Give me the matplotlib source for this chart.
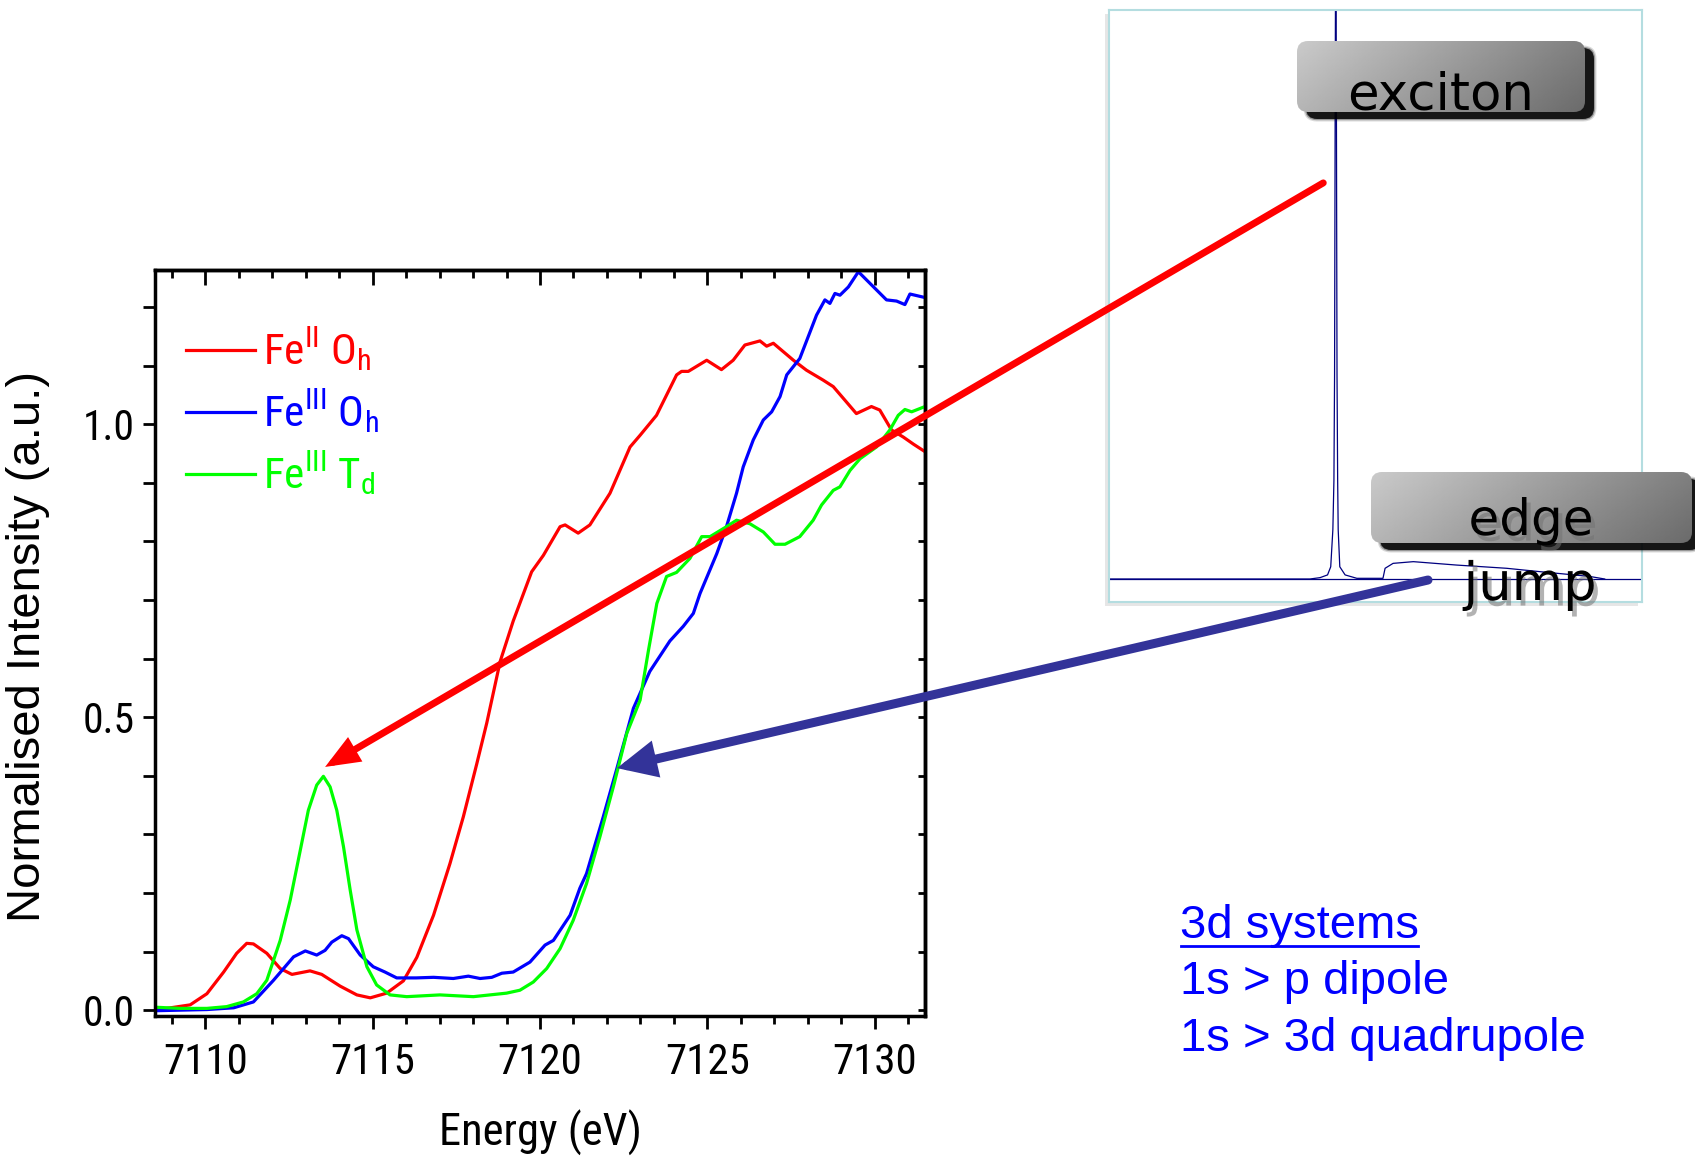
import numpy as np
import matplotlib
matplotlib.use("Agg")
import matplotlib.pyplot as plt
import matplotlib.patheffects as pe
from matplotlib.patches import FancyBboxPatch, ConnectionPatch, Rectangle
from matplotlib.ticker import MultipleLocator, FormatStrFormatter

NARROW = ["Liberation Sans Narrow", "Roboto Condensed", "Liberation Sans"]
plt.rcParams["font.family"] = NARROW + ["DejaVu Sans"]
plt.rcParams["mathtext.fontset"] = "custom"
plt.rcParams["mathtext.rm"] = "Roboto Condensed"
plt.rcParams["mathtext.it"] = "Roboto Condensed:italic"
plt.rcParams["mathtext.bf"] = "Roboto Condensed:bold"

# Fe K pre-edge / edge spectra (energy in eV, normalised intensity)
e_fe2_oh = [7108.5, 7109.55, 7110.05, 7110.55, 7110.94, 7111.24, 7111.44, 7111.84, 7112.24,
            7112.59, 7113.13, 7113.48, 7114.03, 7114.53, 7114.93, 7115.42, 7115.92, 7116.32,
            7116.82, 7117.31, 7117.71, 7118.11, 7118.41, 7118.81, 7119.20, 7119.75, 7120.10,
            7120.60, 7120.75, 7121.14, 7121.49, 7122.09, 7122.69, 7122.99, 7123.48, 7124.08,
            7124.23, 7124.43, 7124.98, 7125.42, 7125.77, 7126.12, 7126.57, 7126.77, 7126.97,
            7127.57, 7127.96, 7128.46, 7128.76, 7129.45, 7129.90, 7130.15, 7130.50, 7130.85,
            7131.15, 7131.5]
i_fe2_oh = [0.0, 0.009, 0.028, 0.065, 0.097, 0.114, 0.113, 0.097, 0.071,
            0.061, 0.067, 0.061, 0.041, 0.026, 0.021, 0.029, 0.050, 0.090,
            0.162, 0.25, 0.33, 0.42, 0.49, 0.595, 0.664, 0.748, 0.776,
            0.825, 0.828, 0.814, 0.828, 0.882, 0.961, 0.981, 1.015, 1.084,
            1.090, 1.090, 1.109, 1.093, 1.109, 1.135, 1.142, 1.133, 1.138,
            1.109, 1.092, 1.075, 1.064, 1.018, 1.030, 1.024, 0.990, 0.978,
            0.966, 0.953]

e_fe3_oh = [7108.5, 7110.05, 7110.85, 7111.44, 7112.04, 7112.64, 7112.99, 7113.33, 7113.58,
            7113.78, 7114.08, 7114.28, 7114.63, 7115.02, 7115.37, 7115.72, 7116.3, 7116.82,
            7117.41, 7117.86, 7118.21, 7118.56, 7118.86, 7119.20, 7119.70, 7120.15, 7120.40,
            7120.90, 7121.19, 7121.39, 7121.89, 7122.29, 7122.79, 7123.28, 7123.88, 7124.28,
            7124.58, 7124.78, 7125.03, 7125.28, 7125.57, 7125.87, 7126.07, 7126.37, 7126.67,
            7126.92, 7127.17, 7127.37, 7127.76, 7128.01, 7128.26, 7128.51, 7128.66, 7128.81,
            7128.96, 7129.21, 7129.51, 7129.86, 7130.35, 7130.65, 7130.90, 7131.05, 7131.5]
i_fe3_oh = [-0.001, 0.001, 0.004, 0.014, 0.051, 0.091, 0.101, 0.094, 0.102,
            0.116, 0.127, 0.122, 0.094, 0.074, 0.065, 0.055, 0.055, 0.056,
            0.054, 0.058, 0.054, 0.056, 0.063, 0.065, 0.082, 0.111, 0.119,
            0.162, 0.208, 0.233, 0.330, 0.411, 0.515, 0.578, 0.630, 0.655,
            0.677, 0.711, 0.745, 0.779, 0.825, 0.882, 0.927, 0.973, 1.007,
            1.021, 1.047, 1.084, 1.112, 1.149, 1.186, 1.212, 1.206, 1.223,
            1.220, 1.234, 1.260, 1.240, 1.212, 1.210, 1.204, 1.222, 1.216]

e_fe3_td = [7108.5, 7109.25, 7110.05, 7110.64, 7111.14, 7111.54, 7111.84, 7112.24, 7112.54,
            7112.84, 7113.08, 7113.33, 7113.53, 7113.73, 7113.93, 7114.13, 7114.33, 7114.53,
            7114.83, 7115.12, 7115.52, 7116.02, 7117.01, 7118.01, 7119.00, 7119.40, 7119.80,
            7120.20, 7120.60, 7120.99, 7121.39, 7121.79, 7122.19, 7122.59, 7122.99, 7123.24,
            7123.49, 7123.78, 7124.08, 7124.48, 7124.83, 7125.08, 7125.57, 7125.87, 7126.27,
            7126.67, 7127.02, 7127.32, 7127.76, 7128.16, 7128.41, 7128.76, 7128.96, 7129.26,
            7129.56, 7130.05, 7130.45, 7130.70, 7130.90, 7131.10, 7131.5]
i_fe3_td = [0.005, 0.003, 0.003, 0.006, 0.014, 0.028, 0.051, 0.119, 0.188,
            0.273, 0.341, 0.384, 0.399, 0.381, 0.341, 0.279, 0.205, 0.137,
            0.074, 0.043, 0.026, 0.023, 0.026, 0.023, 0.029, 0.034, 0.048,
            0.071, 0.105, 0.153, 0.216, 0.296, 0.381, 0.472, 0.529, 0.614,
            0.694, 0.740, 0.747, 0.771, 0.808, 0.808, 0.825, 0.836, 0.830,
            0.816, 0.795, 0.795, 0.808, 0.836, 0.862, 0.887, 0.893, 0.921,
            0.941, 0.961, 0.990, 1.015, 1.025, 1.021, 1.030]

series = [
    (e_fe2_oh, i_fe2_oh, "#ff0000", r"Fe$^{\mathrm{II}}$ O$_{\mathrm{h}}$"),
    (e_fe3_oh, i_fe3_oh, "#0000ff", r"Fe$^{\mathrm{III}}$ O$_{\mathrm{h}}$"),
    (e_fe3_td, i_fe3_td, "#00ff00", r"Fe$^{\mathrm{III}}$ T$_{\mathrm{d}}$"),
]

# schematic absorption spectrum: sharp exciton line followed by the edge jump
inset_x = [0, 37.7, 39.6, 41.0, 41.6, 42.0, 42.2, 42.32, 42.45, 42.55, 42.65, 42.78, 42.9,
           43.0, 43.3, 44.3, 46.5, 51.4, 51.8, 53.3, 57.1, 65.2, 74.6, 80.9, 90.2, 93.0]
inset_y = [0, 0, 0.08, 0.24, 0.72, 2.9, 5.8, 12.0, 30.0, 40.0, 30.0, 12.0, 5.8,
           2.9, 0.72, 0.24, 0.04, 0.04, 0.63, 0.92, 1.02, 0.82, 0.63, 0.43, 0.15, 0.0]
inset_base = 0.0

# arrows: inset feature -> spectrum feature
exciton_from, exciton_to = (40.2, 23.3), (7113.58, 0.415)
edge_from, edge_to = (59.85, -0.06), (7122.30, 0.413)

notes = ["3d systems", "1s > p dipole", "1s > 3d quadrupole"]

W, H = 1695, 1159
fig = plt.figure(figsize=(W / 100, H / 100), dpi=100)


def px_rect(x0, y0, x1, y1):
    return [x0 / W, 1 - y1 / H, (x1 - x0) / W, (y1 - y0) / H]


# ---- main spectrum panel ----
ax = fig.add_axes(px_rect(155, 270, 925, 1016))
for e, i, c, lab in series:
    ax.plot(e, i, color=c, lw=2.3, label=lab)
ax.set_xlim(7108.5, 7131.5)
ax.set_ylim(-0.010, 1.263)

ax.xaxis.set_major_locator(MultipleLocator(5))
ax.xaxis.set_minor_locator(MultipleLocator(1))
ax.yaxis.set_major_locator(MultipleLocator(0.5))
ax.yaxis.set_minor_locator(MultipleLocator(0.1))
ax.yaxis.set_major_formatter(FormatStrFormatter("%.1f"))
ax.tick_params(axis="x", which="major", direction="out", length=9.5, width=2, labelsize=31, pad=9)
ax.tick_params(axis="x", which="minor", direction="out", length=6, width=2)
ax.tick_params(axis="y", which="both", direction="out", length=8.5, width=2, labelsize=30, pad=6)
for s in ax.spines.values():
    s.set_linewidth(2.5)

top = ax.secondary_xaxis("top")
top.xaxis.set_major_locator(MultipleLocator(5))
top.xaxis.set_minor_locator(MultipleLocator(1))
top.tick_params(axis="x", which="major", direction="in", length=11, width=2, labeltop=False)
top.tick_params(axis="x", which="minor", direction="in", length=6, width=2, labeltop=False)
top.spines["top"].set_linewidth(2.5)

right = ax.secondary_yaxis("right")
right.yaxis.set_major_locator(MultipleLocator(0.5))
right.yaxis.set_minor_locator(MultipleLocator(0.1))
right.tick_params(axis="y", which="both", direction="in", length=5, width=2, labelright=False)
right.spines["right"].set_linewidth(2.5)

ax.set_xlabel("Energy (eV)", size=32, labelpad=20)
ax.set_ylabel("Normalised Intensity (a.u.)", family="Liberation Sans", size=34)
ax.yaxis.set_label_coords(-0.137, 0.495)

ax.legend(loc="upper left", bbox_to_anchor=(0.04, 0.925), frameon=False, fontsize=31,
          handlelength=1.6, handletextpad=0.2, labelspacing=0.33,
          borderaxespad=0, borderpad=0, labelcolor="linecolor")

# ---- schematic inset ----
fig.add_artist(Rectangle((1105 / W, 1 - 606 / H), 533 / W, 592 / H,
                         transform=fig.transFigure, fc="#e6e6e6", ec="none", zorder=-1))
axin = fig.add_axes(px_rect(1109, 10, 1642, 602))
axin.axhline(inset_base, color="#000080", lw=0.9)
axin.plot(inset_x, inset_y, color="#000080", lw=0.9)
axin.set_xlim(0, 100)
axin.set_ylim(-1.353, 33.47)
axin.set_xticks([])
axin.set_yticks([])
for s in axin.spines.values():
    s.set_color("#b4dde0")
    s.set_linewidth(1.5)

for (a, b, col, lw, hl, hw) in [(exciton_from, exciton_to, "#ff0000", 5, 1.6, 0.65),
                                (edge_from, edge_to, "#333399", 6.5, 1.8, 0.85)]:
    con = ConnectionPatch(xyA=a, coordsA=axin.transData, xyB=b, coordsB=ax.transData,
                          arrowstyle=f"-|>,head_length={hl},head_width={hw}",
                          mutation_scale=10, lw=lw, color=col, shrinkA=0, shrinkB=0,
                          joinstyle="miter", zorder=2)
    fig.add_artist(con)

# ---- overlay for labels ----
ov = fig.add_axes([0, 0, 1, 1], zorder=5)
ov.axis("off")


def shaded_box(x0, y0, x1, y1, r=11):
    for pad, a in [(2.5, 0.15), (1.2, 0.3), (0, 0.85)]:
        ov.add_patch(FancyBboxPatch((x0 + 9 - pad, y0 + 7 - pad), x1 - x0 + 2 * pad, y1 - y0 + 2 * pad,
                                    boxstyle=f"round,pad=0,rounding_size={r + pad}",
                                    fc="black", ec="none", alpha=a, zorder=1))
    box = FancyBboxPatch((x0, y0), x1 - x0, y1 - y0, boxstyle=f"round,pad=0,rounding_size={r}",
                         fc="none", ec="none", zorder=2)
    ov.add_patch(box)
    U, V = np.meshgrid(np.linspace(0, 1, 256), np.linspace(0, 1, 64))
    g = 202 - 95 * (0.78 * U + 0.22 * V)
    im = ov.imshow(g, cmap="gray", vmin=0, vmax=255, extent=(x0, x1, y1, y0),
                   origin="upper", aspect="auto", interpolation="bilinear", zorder=3)
    im.set_clip_path(box)


shaded_box(1297, 41, 1585, 112)
shaded_box(1371, 472, 1692, 543)

shadow = [pe.SimplePatchShadow(offset=(3, -4), shadow_rgbFace="0.45", alpha=0.55), pe.Normal()]
ov.text(1441, 109, "exciton", family="DejaVu Sans", size=37, ha="center", va="baseline",
        color="black", zorder=4)
ov.text(1531, 535, "edge", family="DejaVu Sans", size=36, ha="center", va="baseline",
        color="black", path_effects=shadow, zorder=4)
ov.text(1530, 600, "jump", family="DejaVu Sans", size=38, ha="center", va="baseline",
        color="black", path_effects=shadow, zorder=4)

note_texts = []
for k, s in enumerate(notes):
    note_texts.append(ov.text(1180, 938 + 56.5 * k, s, family="Liberation Sans", size=34,
                              color="#0000ff", va="baseline", ha="left", zorder=4))

ov.set_xlim(0, W)
ov.set_ylim(H, 0)

# underline the heading
fig.canvas.draw()
bb = note_texts[0].get_window_extent()
ov.plot([bb.x0 + 1, bb.x1 - 1], [946, 946], color="#0000ff", lw=2, zorder=4)
ov.set_xlim(0, W)
ov.set_ylim(H, 0)

fig.savefig("out.png", dpi=100)
